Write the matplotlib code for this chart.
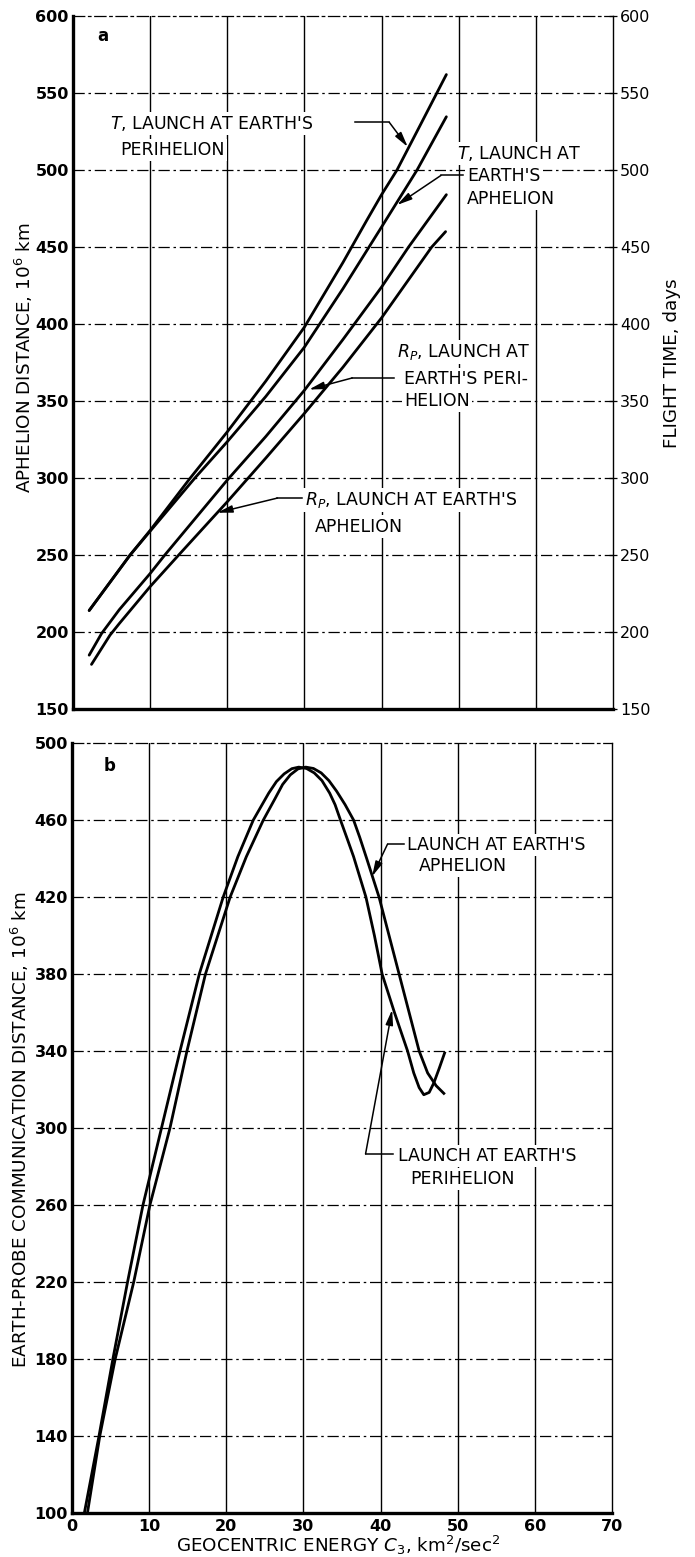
import numpy as np
import matplotlib.pyplot as plt

plt.rcParams.update({"font.family": "DejaVu Sans", "font.size": 10})

# --- panel a: aphelion distance (10^6 km) / flight time (days) vs C3 ---
c3_t_peri = [2.1, 7.4, 10, 15.2, 20, 25, 30, 35, 38.1, 40, 42, 45, 48.4]
t_peri = [214, 250, 266, 300, 330, 363, 398, 440, 467.5, 484, 500, 529, 562]

c3_t_aph = [2.1, 7.4, 10, 15.8, 20, 25, 30, 35, 40, 44.6, 48.4]
t_aph = [214, 250, 265.5, 300, 323.6, 353, 385, 423, 463, 500, 534.6]

c3_rp_peri = [2.1, 3.7, 6, 10, 11.9, 20, 25, 30, 35, 40, 43.5, 48.4]
rp_peri = [185, 199, 214.5, 238, 250, 298.7, 327, 357, 390, 424, 450, 484]

c3_rp_aph = [2.4, 4.8, 6, 10, 13.7, 20, 25, 30, 35, 40, 46.5, 48.3]
rp_aph = [179, 198, 205.5, 229.5, 250, 284.6, 313, 342, 372, 404, 450, 460]

# --- panel b: earth-probe communication distance (10^6 km) vs C3 ---
c3_comm_peri = [1.6, 3.5, 5.3, 7.2, 9.2, 11.6, 14.0, 16.5, 19.6, 21.5, 23.5,
                25.5, 26.5, 27.5, 28.5, 29.4, 30.4, 31.4, 32.4, 33.4, 34.1,
                34.8, 35.7, 36.5, 38.1, 39.2, 40.2, 41.8, 43.5, 44.3, 45.0,
                45.6, 46.3, 46.9, 47.6, 48.3]
comm_peri = [100, 140, 180, 220, 260, 300, 340, 380, 420, 441, 460,
             474, 480, 484, 486.7, 487.5, 486.8, 484.5, 480.5, 474, 468,
             460, 450, 441, 420, 400, 380, 360, 340, 328.6, 321,
             317.3, 318.5, 323.4, 331, 339]

c3_comm_aph = [2.0, 3.6, 5.6, 8.0, 10.1, 12.7, 14.9, 17.3, 20.5, 22.6, 24.8,
               26.3, 27.3, 28.3, 29.3, 30.3, 31.3, 32.3, 33.3, 34.3, 35.4,
               36.5, 37.3, 38.2, 39.8, 41.1, 42.4, 43.7, 45.0, 46.1, 47.2, 48.2]
comm_aph = [100, 140, 180, 220, 260, 300, 340, 380, 420, 441, 460,
            471, 478.5, 483.5, 486.6, 487.5, 486.8, 484.5, 480.5, 475, 468,
            460, 451, 440, 420, 400, 380, 360, 340, 328.6, 322, 318]

x_ticks = np.arange(0, 71, 10)
a_ticks = np.arange(150, 601, 50)
b_ticks = np.arange(100, 501, 40)

hgrid = (0, (9, 3, 2, 3))
lw_curve = 2.0
fs_note = 12.5
fs_label = 13.2
box = dict(facecolor="white", edgecolor="none", pad=1.5)
arrow = dict(arrowstyle="-|>,head_length=0.9,head_width=0.22", color="k",
             lw=1.1, shrinkA=0, shrinkB=0)

fig = plt.figure(figsize=(6.95, 15.57), dpi=100)
ax_a = fig.add_axes([0.105, 0.5446, 0.777, 0.4451])
ax_b = fig.add_axes([0.1036, 0.02826, 0.777, 0.4945])


def style(ax, yticks, ylim):
    ax.set_xlim(0, 70)
    ax.set_ylim(*ylim)
    ax.set_xticks(x_ticks)
    ax.set_yticks(yticks)
    for x in x_ticks[1:-1]:
        ax.axvline(x, color="k", lw=1.0, zorder=1)
    for y in yticks[1:-1]:
        ax.axhline(y, color="k", lw=0.9, linestyle=hgrid, zorder=1)
    ax.spines["left"].set_linewidth(2.4)
    ax.spines["bottom"].set_linewidth(2.4)
    ax.spines["right"].set_linewidth(1.0)
    ax.spines["top"].set_linewidth(0.9)
    ax.spines["top"].set_linestyle(hgrid)
    ax.tick_params(axis="y", length=0, pad=3, labelsize=11.5)
    ax.tick_params(axis="x", length=0, pad=4, labelsize=11.5)
    for lab in ax.get_yticklabels() + ax.get_xticklabels():
        lab.set_fontweight("bold")


def note(ax, x, y, s):
    ax.text(x, y, s, fontsize=fs_note, va="center", bbox=box, zorder=3)


# panel a
style(ax_a, a_ticks, (150, 600))
ax_a.set_xticklabels([])
for xs, ys in [(c3_t_peri, t_peri), (c3_t_aph, t_aph),
               (c3_rp_peri, rp_peri), (c3_rp_aph, rp_aph)]:
    ax_a.plot(xs, ys, color="k", lw=lw_curve, zorder=4, solid_capstyle="round")

ax_r = ax_a.twinx()
ax_r.set_ylim(150, 600)
ax_r.set_yticks(a_ticks)
ax_r.tick_params(axis="y", direction="inout", length=6, width=0.9, pad=2,
                 labelsize=11.5)
for s in ax_r.spines.values():
    s.set_visible(False)

ax_a.text(3.9, 587, "a", fontsize=12, fontweight="bold", ha="center", va="center")

note(ax_a, 4.8, 530, r"$T$, LAUNCH AT EARTH'S")
note(ax_a, 6.1, 513, "PERIHELION")
ax_a.plot([36.6, 41.0], [531, 531], color="k", lw=1.1, zorder=3)
ax_a.annotate("", xy=(43.4, 515), xytext=(41.0, 531), arrowprops=arrow, zorder=5)

note(ax_a, 49.8, 511, r"$T$, LAUNCH AT")
note(ax_a, 51.1, 496, "EARTH'S")
note(ax_a, 51.1, 481.5, "APHELION")
ax_a.plot([50.6, 47.7], [496.5, 496.5], color="k", lw=1.1, zorder=3)
ax_a.annotate("", xy=(42.0, 477.3), xytext=(47.7, 496.5), arrowprops=arrow, zorder=5)

note(ax_a, 42.0, 382, r"$R_P$, LAUNCH AT")
note(ax_a, 42.9, 364.5, "EARTH'S PERI-")
note(ax_a, 42.9, 350, "HELION")
ax_a.plot([41.6, 36.2], [365, 365], color="k", lw=1.1, zorder=3)
ax_a.annotate("", xy=(30.6, 357.5), xytext=(36.2, 365), arrowprops=arrow, zorder=5)

note(ax_a, 30.1, 286, r"$R_P$, LAUNCH AT EARTH'S")
note(ax_a, 31.4, 268.5, "APHELION")
ax_a.plot([29.7, 26.5], [287, 287], color="k", lw=1.1, zorder=3)
ax_a.annotate("", xy=(18.7, 277.5), xytext=(26.5, 287), arrowprops=arrow, zorder=5)

# panel b
style(ax_b, b_ticks, (100, 500))
ax_b.plot(c3_comm_peri, comm_peri, color="k", lw=lw_curve, zorder=4)
ax_b.plot(c3_comm_aph, comm_aph, color="k", lw=lw_curve, zorder=4)
ax_b.text(4.9, 488, "b", fontsize=12, fontweight="bold", ha="center", va="center")

note(ax_b, 43.4, 447.2, "LAUNCH AT EARTH'S")
note(ax_b, 45.0, 436, "APHELION")
ax_b.plot([43.1, 40.9], [447.5, 447.5], color="k", lw=1.1, zorder=3)
ax_b.annotate("", xy=(38.9, 430.7), xytext=(40.9, 447.5), arrowprops=arrow, zorder=5)

note(ax_b, 42.2, 285.3, "LAUNCH AT EARTH'S")
note(ax_b, 43.9, 273.7, "PERIHELION")
ax_b.plot([41.6, 38.05], [286.5, 286.5], color="k", lw=1.1, zorder=3)
ax_b.annotate("", xy=(41.5, 361.5), xytext=(38.05, 286.5), arrowprops=arrow, zorder=5)

fig.text(24 / 695, 1 - 358 / 1557, r"APHELION DISTANCE, 10$^6$ km",
         rotation=90, ha="center", va="center", fontsize=fs_label)
fig.text(672 / 695, 1 - 363 / 1557, "FLIGHT TIME, days",
         rotation=90, ha="center", va="center", fontsize=fs_label)
fig.text(20 / 695, 1 - 1130 / 1557, r"EARTH-PROBE COMMUNICATION DISTANCE, 10$^6$ km",
         rotation=90, ha="center", va="center", fontsize=fs_label)
fig.text(338 / 695, 1 - 1545 / 1557, r"GEOCENTRIC ENERGY $C_3$, km$^2$/sec$^2$",
         ha="center", va="center", fontsize=fs_label)

fig.savefig("out.png", dpi=100)
